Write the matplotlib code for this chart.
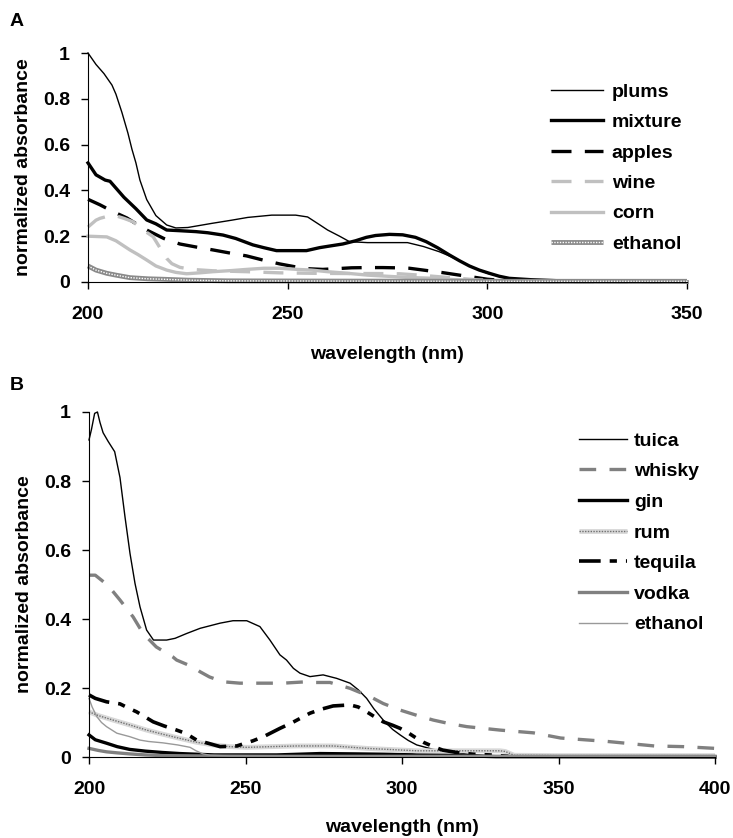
import matplotlib
matplotlib.use("Agg")
import matplotlib.pyplot as plt

plt.rcParams['font.family'] = ['Liberation Sans', 'DejaVu Sans']
plt.rcParams['font.weight'] = 'bold'
plt.rcParams['font.size'] = 14

# ---- panel A data (wavelength nm, normalized absorbance) ----
plums_wl = [200, 202, 204, 206, 207, 208.5, 210, 211, 212, 213, 214.7, 217, 219.7, 222, 225, 231, 236, 240, 246, 252,
            255, 258, 260, 263, 265.5, 270, 276, 280, 284, 288, 291, 295, 300, 305, 310, 320, 350]
plums = [1.0, 0.95, 0.91, 0.86, 0.82, 0.74, 0.65, 0.58, 0.52, 0.445, 0.36, 0.29, 0.249, 0.236, 0.238, 0.256, 0.27, 0.282,
         0.292, 0.292, 0.284, 0.25, 0.227, 0.2, 0.176, 0.172, 0.172, 0.172, 0.155, 0.132, 0.11, 0.075, 0.038, 0.016,
         0.01, 0.004, 0.0]

mixture_wl = [200, 202, 204.3, 205.5, 207, 209, 212, 214.7, 217, 219.7, 223, 227, 230, 233.8, 237, 241.3, 244, 247.2,
              254.7, 258, 260.5, 263.8, 267, 269.7, 272, 275.5, 278.8, 282, 284.7, 287.5, 290.5, 293, 295.5, 298,
              300.5, 303, 305.5, 311, 320, 350]
mixture = [0.52, 0.468, 0.445, 0.44, 0.41, 0.37, 0.32, 0.271, 0.254, 0.227, 0.224, 0.22, 0.215, 0.205, 0.19, 0.162,
           0.15, 0.137, 0.137, 0.15, 0.157, 0.166, 0.18, 0.195, 0.203, 0.208, 0.206, 0.195, 0.176, 0.15, 0.118, 0.093,
           0.07, 0.052, 0.038, 0.025, 0.016, 0.01, 0.004, 0.0]

apples_wl = [200, 203, 206.3, 209.7, 212, 214.7, 219, 223, 227, 231.3, 236, 239.7, 244, 248, 252, 255, 258.8, 262, 266,
             270, 273.8, 277, 280.5, 284, 288.8, 293, 297, 300, 305, 315, 350]
apples = [0.361, 0.337, 0.307, 0.28, 0.255, 0.227, 0.19, 0.166, 0.153, 0.14, 0.125, 0.114, 0.095, 0.079, 0.066, 0.058,
          0.055, 0.058, 0.062, 0.063, 0.063, 0.062, 0.06, 0.052, 0.041, 0.03, 0.02, 0.012, 0.005, 0.002, 0.0]

wine_wl = [200, 202, 203, 205.5, 207.2, 209, 211.3, 214, 216.3, 218, 219.7, 221, 223, 226, 231.3, 239.7, 248, 256, 265,
           272, 278, 283, 290, 297, 305, 320, 350]
wine = [0.24, 0.27, 0.278, 0.29, 0.288, 0.278, 0.263, 0.225, 0.198, 0.15, 0.103, 0.08, 0.064, 0.055, 0.049, 0.045, 0.04,
        0.038, 0.037, 0.037, 0.036, 0.03, 0.02, 0.01, 0.004, 0.001, 0.0]

corn_wl = [200, 204.7, 207, 210.5, 212.5, 214.7, 217, 219.7, 222, 224.7, 228, 231.3, 236, 239.7, 244, 248, 252.5, 256,
           260, 265, 270, 275, 280, 285, 290, 295, 300, 310, 350]
corn = [0.2, 0.197, 0.18, 0.14, 0.12, 0.096, 0.07, 0.052, 0.042, 0.036, 0.04, 0.045, 0.05, 0.055, 0.06, 0.06, 0.055,
        0.052, 0.045, 0.038, 0.03, 0.025, 0.02, 0.017, 0.012, 0.008, 0.004, 0.001, 0.0]

ethanolA_wl = [200, 202, 204.7, 207, 210.5, 215, 218.8, 225, 235, 260, 300, 350]
ethanolA = [0.07, 0.052, 0.038, 0.03, 0.019, 0.014, 0.012, 0.008, 0.005, 0.004, 0.003, 0.003]

# ---- panel B data ----
tuica_wl = [200, 200.8, 201.8, 202.7, 203.5, 204.5, 206.1, 208.2, 209.9, 211.5, 213.1, 214.7, 216.3, 218.4, 220.6,
            224.8, 227.5, 231.2, 235.5, 241.9, 246, 250.4, 254.6, 257.8, 261, 263.1, 265.3, 267.4, 270.6, 274.8,
            279.1, 283.4, 286, 288.7, 291, 294, 297, 299.4, 302, 304.7, 310, 315.3, 322.7, 330, 400]
tuica = [0.919, 0.95, 0.996, 1.0, 0.97, 0.94, 0.915, 0.885, 0.81, 0.696, 0.59, 0.503, 0.435, 0.368, 0.339, 0.339,
         0.344, 0.358, 0.373, 0.388, 0.395, 0.395, 0.378, 0.339, 0.296, 0.281, 0.257, 0.243, 0.233, 0.238, 0.228,
         0.214, 0.195, 0.17, 0.14, 0.107, 0.08, 0.064, 0.048, 0.035, 0.022, 0.015, 0.006, 0.002, 0.0]

whisky_wl = [200, 202, 206, 209.9, 214.1, 217.3, 221.5, 226.8, 228, 233.2, 235.5, 238.5, 242.8, 248.2, 255, 262, 269.4,
             271.6, 277, 283.4, 289.8, 294, 299.4, 305, 310, 315, 320.7, 331.3, 342, 350.7, 365.7, 380.6, 390, 400]
whisky = [0.527, 0.527, 0.498, 0.455, 0.406, 0.358, 0.319, 0.29, 0.281, 0.261, 0.247, 0.232, 0.218, 0.214, 0.214,
          0.214, 0.218, 0.216, 0.216, 0.199, 0.175, 0.155, 0.136, 0.12, 0.107, 0.097, 0.088, 0.078, 0.07, 0.055,
          0.045, 0.032, 0.03, 0.025]

gin_wl = [200, 202, 205.6, 209, 213, 218, 223.6, 229, 234.4, 240, 250, 260, 273.8, 285, 294, 305, 315, 322, 330, 400]
gin = [0.064, 0.05, 0.04, 0.03, 0.022, 0.017, 0.013, 0.01, 0.008, 0.006, 0.006, 0.006, 0.01, 0.009, 0.008, 0.006,
       0.005, 0.003, 0.001, 0.0]

rum_wl = [200, 203, 207.7, 213, 218.4, 223.6, 229, 234.2, 239.6, 245, 250.4, 258, 266.4, 278, 288.7, 298, 304.7, 315.3,
          331.3, 333, 335.8, 350, 400]
rum = [0.131, 0.12, 0.107, 0.093, 0.078, 0.066, 0.054, 0.043, 0.035, 0.03, 0.028, 0.03, 0.032, 0.032, 0.025, 0.021,
       0.018, 0.018, 0.018, 0.016, 0.005, 0.004, 0.004]

tequila_wl = [200, 202, 205.6, 209.9, 213, 215.2, 220.5, 224, 228, 231, 234.4, 238, 241.9, 247.2, 252.4, 256, 261, 265,
              270.6, 274, 278, 283.4, 286, 288.7, 291, 294, 297, 299.4, 302, 304.7, 307, 310, 313, 317.5, 322.7, 328,
              334]
tequila = [0.18, 0.17, 0.16, 0.154, 0.14, 0.131, 0.102, 0.09, 0.078, 0.068, 0.049, 0.04, 0.03, 0.032, 0.047, 0.06,
           0.083, 0.1, 0.127, 0.138, 0.148, 0.151, 0.145, 0.131, 0.118, 0.102, 0.092, 0.083, 0.07, 0.054, 0.042, 0.03,
           0.02, 0.013, 0.008, 0.006, 0.002]

vodka_wl = [200, 203, 205.6, 209, 213, 218, 223.6, 235, 260, 400]
vodka = [0.025, 0.019, 0.015, 0.012, 0.009, 0.006, 0.004, 0.003, 0.002, 0.002]

ethanolB_wl = [200, 201, 202.5, 204, 205.6, 208.9, 213, 216.3, 219, 223.6, 228.3, 232.3, 234.2, 236.4, 238.7, 245, 400]
ethanolB = [0.17, 0.145, 0.117, 0.1, 0.088, 0.069, 0.059, 0.049, 0.045, 0.041, 0.035, 0.028, 0.018, 0.009, 0.005,
            0.003, 0.002]

yticks = [0, 0.2, 0.4, 0.6, 0.8, 1.0]
ytick_labels = ['0', '0.2', '0.4', '0.6', '0.8', '1']

W, H = 733, 838
fig = plt.figure(figsize=(W / 100, H / 100), dpi=100)
axA = fig.add_axes([88 / W, 1 - 282 / H, (687 - 88) / W, (282 - 53) / H])
axB = fig.add_axes([89 / W, 1 - 757 / H, (715 - 89) / W, (757 - 412) / H])


def hatched(ax, x, y, base, dots):
    l1, = ax.plot(x, y, color=base, lw=3.5, clip_on=False, solid_capstyle='butt')
    l2, = ax.plot(x, y, color=dots, lw=1.0, ls=(0, (1, 1)), clip_on=False)
    return (l1, l2)


# panel A
hA = []
hA.append(axA.plot(plums_wl, plums, color='black', lw=1.0, clip_on=False)[0])
hA.append(axA.plot(mixture_wl, mixture, color='black', lw=2.4, clip_on=False)[0])
hA.append(axA.plot(apples_wl, apples, color='black', lw=2.4, ls=(0, (6, 4)), clip_on=False)[0])
hA.append(axA.plot(wine_wl, wine, color='#c0c0c0', lw=2.4, ls=(0, (6, 4)), clip_on=False)[0])
hA.append(axA.plot(corn_wl, corn, color='#c0c0c0', lw=2.4, clip_on=False)[0])
hA.append(hatched(axA, ethanolA_wl, ethanolA, '#8a8a8a', 'white'))
labelsA = ['plums', 'mixture', 'apples', 'wine', 'corn', 'ethanol']

# panel B
hB = []
hB.append(axB.plot(tuica_wl, tuica, color='black', lw=1.0, clip_on=False)[0])
hB.append(axB.plot(whisky_wl, whisky, color='#808080', lw=2.4, ls=(0, (5, 4)), clip_on=False)[0])
hB.append(axB.plot(gin_wl, gin, color='black', lw=2.4, clip_on=False)[0])
hB.append(hatched(axB, rum_wl, rum, '#d8d8d8', '#707070'))
hB.append(axB.plot(tequila_wl, tequila, color='black', lw=2.6,
                   ls=(0, (6, 2.5, 2, 2.5, 2, 2.5)), clip_on=False)[0])
hB.append(axB.plot(vodka_wl, vodka, color='#808080', lw=2.4, clip_on=False)[0])
hB.append(axB.plot(ethanolB_wl, ethanolB, color='#999999', lw=1.0, clip_on=False)[0])
labelsB = ['tuica', 'whisky', 'gin', 'rum', 'tequila', 'vodka', 'ethanol']

for ax, xmax, xt in [(axA, 350, [200, 250, 300, 350]), (axB, 400, [200, 250, 300, 350, 400])]:
    ax.set_xlim(200, xmax)
    ax.set_ylim(0, 1)
    ax.set_xticks(xt)
    ax.set_yticks(yticks)
    ax.set_yticklabels(ytick_labels)
    ax.spines['top'].set_visible(False)
    ax.spines['right'].set_visible(False)
    ax.tick_params(axis='y', direction='out', length=5, width=1, labelsize=14, pad=8)
    ax.tick_params(axis='x', direction='out', length=5, width=1, labelsize=14, pad=12.5)
    ax.set_xlabel('wavelength (nm)', fontsize=14, fontweight='bold')
    ax.set_ylabel('normalized absorbance', fontsize=14, fontweight='bold')

axA.xaxis.set_label_coords(0.5, -64 / 229)
axB.xaxis.set_label_coords(0.5, -62 / 345)
axA.yaxis.set_label_coords(-56 / 599, 0.5)
axB.yaxis.set_label_coords(-56 / 626, 0.5)

axA.legend(hA, labelsA, loc='upper left', bbox_to_anchor=(551 / W, 1 - 83 / H),
           bbox_transform=fig.transFigure, frameon=False, borderpad=0, borderaxespad=0,
           handlelength=2.67, handletextpad=0.46, labelspacing=0.66, prop={'weight': 'bold', 'size': 14})
axB.legend(hB, labelsB, loc='upper left', bbox_to_anchor=(579 / W, 1 - 432 / H),
           bbox_transform=fig.transFigure, frameon=False, borderpad=0, borderaxespad=0,
           handlelength=2.47, handletextpad=0.36, labelspacing=0.67, prop={'weight': 'bold', 'size': 14})

fig.text(10 / W, 1 - 22 / H, 'A', fontsize=14, fontweight='bold', va='center')
fig.text(10 / W, 1 - 385 / H, 'B', fontsize=14, fontweight='bold', va='center')

fig.savefig('out.png', dpi=100)
